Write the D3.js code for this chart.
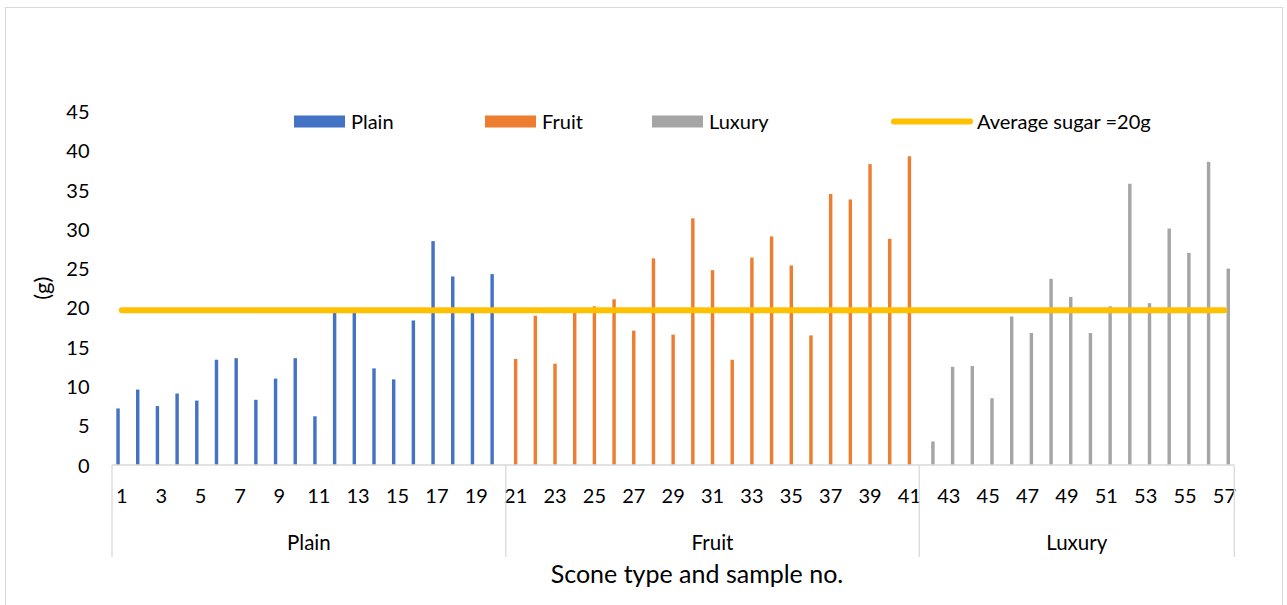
<!DOCTYPE html>
<html><head><meta charset="utf-8">
<script src="https://cdn.jsdelivr.net/npm/d3@7"></script>
<style>
html,body{margin:0;padding:0;background:#fff;}
svg{display:block;font-family:Lato,"Open Sans",sans-serif;}
</style></head>
<body><svg id="chart" width="1287" height="605"></svg>
<script>
// ---- data ----
const seriesNames = ["Plain", "Fruit", "Luxury"];
const plainSamples = [1,2,3,4,5,6,7,8,9,10,11,12,13,14,15,16,17,18,19,20];
const plainValues = [7.2, 9.6, 7.5, 9.1, 8.2, 13.4, 13.6, 8.3, 11.0, 13.6, 6.2, 19.5, 19.5, 12.3, 10.9, 18.4, 28.5, 24.0, 19.5, 24.3];
const fruitSamples = [21,22,23,24,25,26,27,28,29,30,31,32,33,34,35,36,37,38,39,40,41];
const fruitValues = [13.5, 19.0, 12.9, 19.4, 20.2, 21.1, 17.1, 26.3, 16.6, 31.4, 24.8, 13.4, 26.4, 29.1, 25.4, 16.5, 34.5, 33.8, 38.3, 28.8, 39.3];
const luxurySamples = [42,43,44,45,46,47,48,49,50,51,52,53,54,55,56,57];
const luxuryValues = [3.0, 12.5, 12.6, 8.5, 18.9, 16.8, 23.7, 21.4, 16.8, 20.2, 35.8, 20.6, 30.1, 27.0, 38.6, 25.0];
const averageValue = 19.7;
const averageLabel = "Average sugar =20g";
const yTicks = [0, 5, 10, 15, 20, 25, 30, 35, 40, 45];
const yTitle = "(g)";
const xTitle = "Scone type and sample no.";

const colors = {Plain: "#4472C4", Fruit: "#ED7D31", Luxury: "#A5A5A5", Average: "#FFC000"};

const groups = [
  {name: "Plain", samples: plainSamples, values: plainValues},
  {name: "Fruit", samples: fruitSamples, values: fruitValues},
  {name: "Luxury", samples: luxurySamples, values: luxuryValues}
];
const allSamples = groups.flatMap(g => g.samples);
const bars = groups.flatMap(g => g.samples.map((s, i) => ({series: g.name, sample: s, value: g.values[i]})));

// ---- layout ----
const svg = d3.select("#chart");
const FONT = 20;
const plot = {left: 112, right: 1234.3, top: 111.5, bottom: 465};

svg.append("rect").attr("x", 5.5).attr("y", 7.5).attr("width", 1277).attr("height", 620)
  .attr("fill", "#fff").attr("stroke", "#d9d9d9").attr("stroke-width", 1);

const x0 = d3.scaleBand().domain(allSamples).range([plot.left, plot.right]).paddingInner(0.4).paddingOuter(0.2);
const x1 = d3.scaleBand().domain(seriesNames).range([0, x0.bandwidth()]).padding(0.1);
const y = d3.scaleLinear().domain([0, 45]).range([plot.bottom, plot.top]);
const center = s => x0(s) + x0.bandwidth() / 2;

// y axis labels (no line)
const yAxis = d3.axisLeft(y).tickValues(yTicks).tickSize(0).tickPadding(0);
const yg = svg.append("g").attr("transform", "translate(89.5,0)").call(yAxis);
yg.select(".domain").remove();
yg.selectAll("text").attr("font-size", FONT).attr("font-family", "Lato").attr("fill", "#000").attr("dy", "0.35em");

// y title
svg.append("text").attr("transform", `translate(50,${(plot.top + plot.bottom) / 2}) rotate(-90)`)
  .attr("text-anchor", "middle").attr("font-size", 22).attr("fill", "#000").text(yTitle);

// bars
svg.append("g").selectAll("rect").data(bars).join("rect")
  .attr("x", d => x0(d.sample) + x1(d.series))
  .attr("width", x1.bandwidth())
  .attr("y", d => y(d.value))
  .attr("height", d => y(0) - y(d.value))
  .attr("fill", d => colors[d.series]);

// x axis line
svg.append("line").attr("x1", plot.left).attr("x2", plot.right).attr("y1", plot.bottom).attr("y2", plot.bottom)
  .attr("stroke", "#d9d9d9").attr("stroke-width", 1.3);

// x tick labels (odd samples)
const xAxis = d3.axisBottom(x0).tickValues(allSamples.filter(s => s % 2 === 1)).tickSize(0).tickPadding(0);
const xg = svg.append("g").attr("transform", `translate(0,496)`).call(xAxis);
xg.select(".domain").remove();
xg.selectAll("text").attr("font-size", FONT).attr("font-family", "Lato").attr("fill", "#000").attr("dy", "0.35em");

// group dividers and labels
const groupStart = g => x0(g.samples[0]) - x0.paddingOuter() * x0.step();
const groupEnd = g => x0(g.samples[g.samples.length - 1]) + x0.step() - x0.paddingOuter() * x0.step();
const boundaries = [plot.left].concat(groups.map(groupEnd));
svg.append("g").selectAll("line").data(boundaries).join("line")
  .attr("x1", d => d).attr("x2", d => d).attr("y1", plot.bottom).attr("y2", 557)
  .attr("stroke", "#d9d9d9").attr("stroke-width", 1.3);
svg.append("g").selectAll("text").data(groups).join("text")
  .attr("x", g => (groupStart(g) + groupEnd(g)) / 2)
  .attr("y", 543).attr("dy", "0.35em").attr("text-anchor", "middle").attr("font-size", FONT + 0.5).attr("fill", "#000")
  .text(g => g.name);

// x title
svg.append("text").attr("x", 697).attr("y", 574).attr("dy", "0.35em").attr("text-anchor", "middle")
  .attr("font-size", 25).attr("fill", "#000").text(xTitle);

// average line
svg.append("path")
  .datum([allSamples[0], allSamples[allSamples.length - 1]])
  .attr("d", d3.line().x(s => center(s)).y(() => y(averageValue)))
  .attr("stroke", colors.Average).attr("stroke-width", 6).attr("stroke-linecap", "round").attr("fill", "none");

// legend
const legendItems = [
  {name: "Plain", type: "rect", x: 294},
  {name: "Fruit", type: "rect", x: 485},
  {name: "Luxury", type: "rect", x: 652},
  {name: averageLabel, type: "line", x: 891}
];
const lg = svg.append("g");
legendItems.forEach(it => {
  if (it.type === "rect") {
    lg.append("rect").attr("x", it.x).attr("y", 115.5).attr("width", 51).attr("height", 12)
      .attr("fill", colors[it.name]);
  } else {
    lg.append("line").attr("x1", it.x + 3).attr("x2", it.x + 79).attr("y1", 121.5).attr("y2", 121.5)
      .attr("stroke", colors.Average).attr("stroke-width", 6).attr("stroke-linecap", "round");
  }
  lg.append("text").attr("x", it.x + (it.type === "rect" ? 57 : 86)).attr("y", 121.5).attr("dy", "0.35em")
    .attr("font-size", FONT).attr("fill", "#000").text(it.name);
});
</script></body></html>
